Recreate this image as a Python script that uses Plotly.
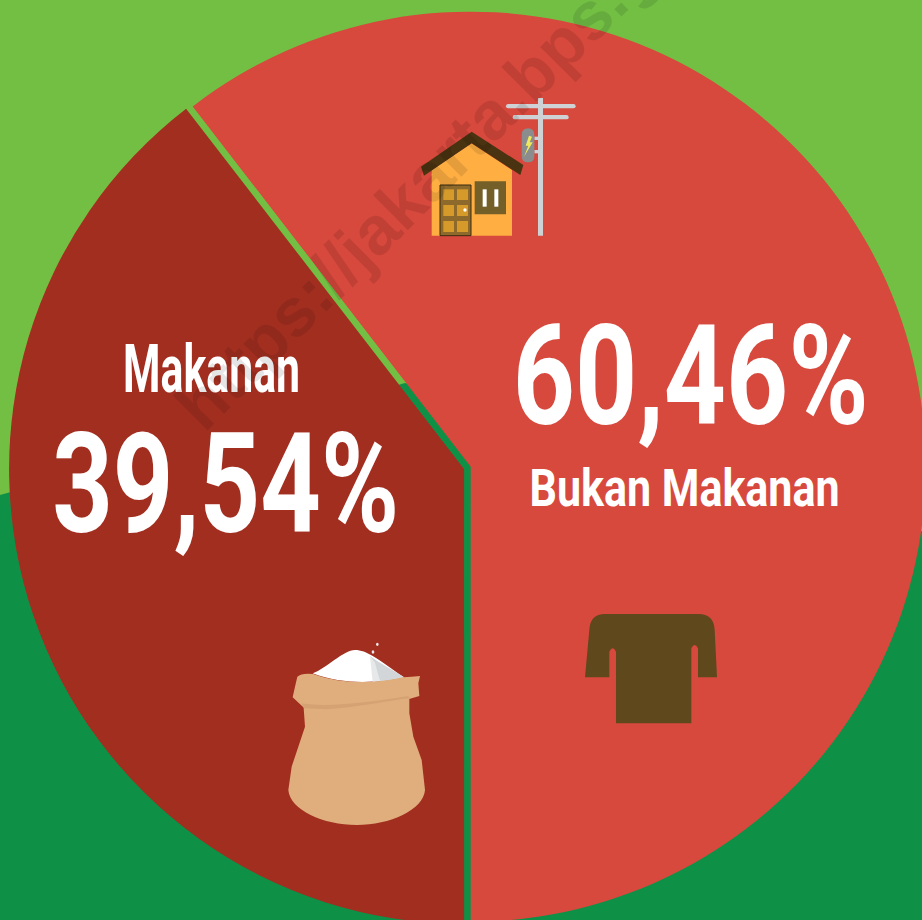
import re
import plotly.graph_objects as go

labels = ["Bukan Makanan", "Makanan"]
values = [60.46, 39.54]
slice_colors = ["#D7483D", "#A22E20"]
value_labels = ["60,46%", "39,54%"]
watermark = "https://jakarta.bps.go.id"

W = H = 935
LIGHT = "#72BF44"
DARK = "#0F9047"


def px(x):
    return x / W


def py(y):
    return 1 - y / H


def path(spec, ox=0, oy=0, s=1.0):
    """Turn a pixel-space path into a paper-space SVG path."""
    out, pending = [], []
    for tok in re.findall(r"[MLQCZ]|-?\d+\.?\d*", spec):
        if tok.isalpha():
            out.append(tok)
        else:
            pending.append(float(tok))
            if len(pending) == 2:
                out.append(f"{px(ox + pending[0] * s):.5f},{py(oy + pending[1] * s):.5f}")
                pending = []
    return " ".join(out)


shapes = []


def add_path(spec, fill, ox=0, oy=0, s=1.0, layer="above"):
    shapes.append(dict(type="path", xref="paper", yref="paper", path=path(spec, ox, oy, s),
                       fillcolor=fill, line=dict(width=0), layer=layer))


def add_box(x0, y0, x1, y1, fill, ox, oy, s, kind="rect", line=None):
    shapes.append(dict(type=kind, xref="paper", yref="paper",
                       x0=px(ox + x0 * s), x1=px(ox + x1 * s),
                       y0=py(oy + y0 * s), y1=py(oy + y1 * s),
                       fillcolor=fill, line=line or dict(width=0), layer="above"))


def add_pill(x0, y0, x1, y1, fill, ox, oy, s):
    r = (y1 - y0) / 2
    add_path(f"M{x0 + r},{y0} L{x1 - r},{y0} Q{x1},{y0} {x1},{y0 + r} Q{x1},{y1} {x1 - r},{y1} "
             f"L{x0 + r},{y1} Q{x0},{y1} {x0},{y0 + r} Q{x0},{y0} {x0 + r},{y0} Z", fill, ox, oy, s)


# background split
add_path("M0,495 L405,383 L935,535 L935,935 L0,935 Z", DARK, layer="below")

# house and pole
o = (380, 80, 1 / 3)
add_path("M155,270 L275,190 L396,270 L396,467 L155,467 Z", "#FFAE42", *o)
add_path("M123,260 L275,155 L430,255 L421,285 L275,190 L132,287 Z", "#4A3310", *o)
add_box(180, 315, 273, 467, "#8D6A2C", *o, line=dict(color="#3B2A0E", width=1))
for cx0, cx1 in [(190, 222), (231, 264)]:
    for cy0, cy1 in [(328, 360), (375, 408), (423, 456)]:
        add_box(cx0, cy0, cx1, cy1, "#D69A2B", *o)
add_box(250, 385, 260, 395, "#FFFFFF", *o, kind="circle")
add_box(284, 304, 378, 403, "#735F27", *o)
add_box(308, 328, 320, 380, "#FFFFFF", *o)
add_box(343, 328, 355, 380, "#FFFFFF", *o)
add_box(474, 54, 489, 467, "#CFD2D4", *o)
add_pill(378, 72, 587, 85, "#CFD2D4", *o)
add_pill(398, 105, 566, 118, "#CFD2D4", *o)
add_box(463, 170, 474, 180, "#CFD2D4", *o)
add_box(463, 210, 474, 220, "#CFD2D4", *o)
add_path("M425,165 Q425,145 444,145 Q463,145 463,165 L463,227 Q463,247 444,247 Q425,247 425,227 Z", "#8A8C8E", *o)
add_path("M447,167 L437,197 L445,197 L432,230 L458,187 L449,187 L456,170 Z", "#F0E85C", *o)

# shirt
add_path("M75,262 L88,120 Q90,72 135,72 L415,72 Q462,72 464,120 L471,262 L414,262 L414,175 "
         "Q404,155 394,175 L394,400 L168,400 L168,185 Q158,165 148,185 L148,262 Z",
         "#5F481C", 560, 590, 1 / 3)

# sack
o = (260, 620, 1 / 3)
add_path("M158,160 C200,145 250,90 285,90 C320,90 350,115 432,172 C350,190 250,195 158,160 Z", "#FFFFFF", *o)
add_path("M330,108 C360,130 400,150 432,172 C410,178 385,182 360,184 Z", "#D2D6D8", *o)
add_path("M330,108 L345,128 L360,184 L338,186 Z", "#E6E8E9", *o)
add_path("M130,250 L135,320 L115,380 L95,440 L85,510 C90,570 190,615 290,615 C390,615 490,570 495,510 "
         "L485,420 L460,350 L448,280 L448,235 Z", "#E0AE7C", *o)
add_path("M112,170 Q125,158 160,162 C250,195 350,190 430,172 Q455,170 480,168 L475,190 L478,228 "
         "L445,238 C390,240 300,262 200,264 L130,262 L98,232 L105,200 Z", "#E0AE7C", *o)
add_path("M125,250 C200,262 300,250 445,228 L450,235 C390,240 300,262 200,268 L132,265 Z", "#D5A274", *o)
add_box(335, 91, 343, 101, "#E6E8E9", *o, kind="circle")
add_box(348, 68, 356, 78, "#E6E8E9", *o, kind="circle")

TEXT_FONT = "Roboto"


def label(text, x, y, size, color="#FFFFFF", family=TEXT_FONT, angle=0):
    return dict(text=text, x=px(x), y=py(y), xref="paper", yref="paper", showarrow=False,
                xanchor="center", yanchor="middle", textangle=angle,
                font=dict(family=family, size=size, color=color, weight=700))


annotations = [
    label(value_labels[0], 690, 376, 140),
    label(labels[0], 684, 488, 52),
    label(labels[1], 211, 369, 67),
    label(value_labels[1], 225, 484, 140),
    label(watermark, 458, 146, 68, color="rgba(0,0,0,0.1)", family="Liberation Sans", angle=-45),
]

fig = go.Figure(go.Pie(
    labels=labels, values=values, sort=False, direction="clockwise", rotation=-37.66,
    marker=dict(colors=slice_colors, line=dict(width=0)),
    pull=[0.0077, 0.0077], textinfo="none", hoverinfo="label+percent", showlegend=False,
    domain=dict(x=[8.9 / W, 925.9 / W], y=[1 - 926.3 / H, 1 - 9.3 / H]),
))
fig.update_layout(width=W, height=H, margin=dict(l=0, r=0, t=0, b=0), autosize=False,
                  paper_bgcolor=LIGHT, plot_bgcolor=LIGHT, shapes=shapes, annotations=annotations)

# the reference lettering is much narrower than any installed face: squeeze it to its measured width
post = """
document.documentElement.style.overflow='hidden';
document.body.style.margin='0';
document.body.style.overflow='hidden';
var widths={'60,46%':356,'39,54%':347,'Bukan Makanan':310,'Makanan':177};
document.querySelectorAll('text.annotation-text').forEach(function(t){
  var w=widths[t.textContent];
  if(!w){return;}
  var s=w/t.getBBox().width;
  t.style.transformBox='fill-box';
  t.style.transformOrigin='center';
  t.style.transform='scaleX('+s+')';
});
"""
fig.write_html("out.html", config=dict(displayModeBar=False), post_script=post)
